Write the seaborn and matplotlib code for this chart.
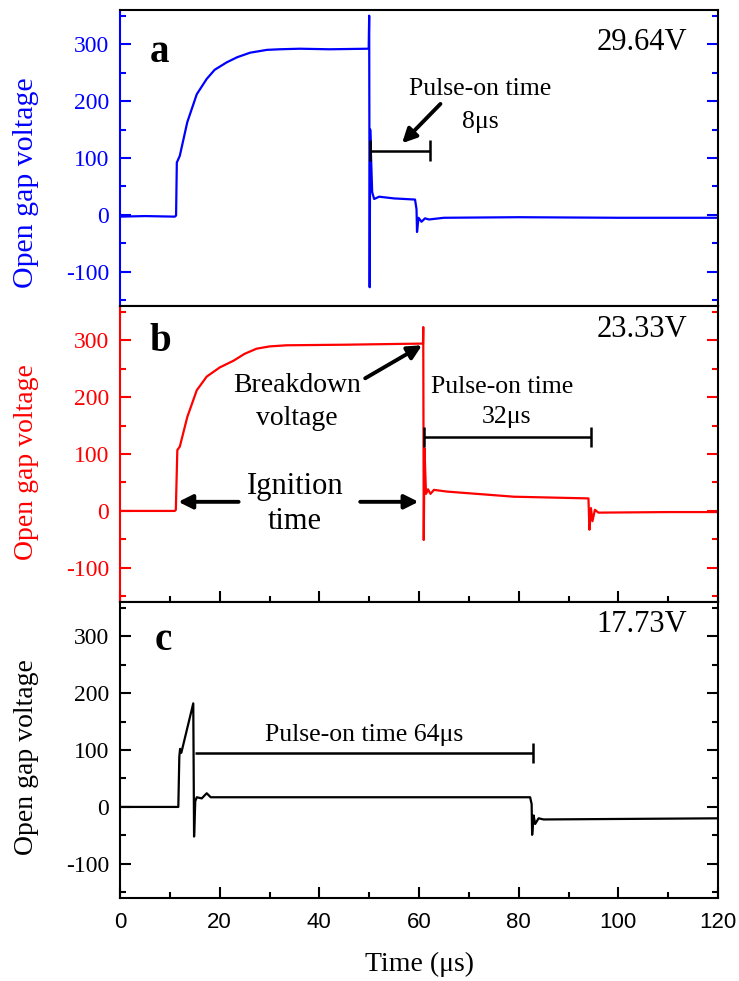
import matplotlib
matplotlib.use('Agg')
import matplotlib.pyplot as plt
from matplotlib.ticker import MultipleLocator
import seaborn as sns
import pandas as pd

# ── Data ─────────────────────────────────────────────────
time_a = [0, 5, 11.0, 11.25, 11.4, 12.0, 13.5, 15.4, 17.4, 19.0, 21.4, 23.5, 26.1,
          29.5, 32.0, 36.1, 42, 49.9, 50.0, 50.1, 50.2, 50.6, 51.0, 52.0, 55.0,
          59.2, 59.5, 59.6, 59.9, 60.5, 61.2, 62.0, 65.0, 80.0, 100.0, 120.0]
volt_a = [-3, -2, -3, -1, 92, 104, 163, 212, 239, 255, 268, 277, 285,
          290, 291, 292, 291, 292, 350, -127, 150, 40, 28, 32, 29,
          27, 10, -30, -5, -12, -6, -8, -5, -4, -5, -5]

time_b = [0, 11.0, 11.2, 11.5, 12.0, 13.5, 15.4, 17.4, 20.0, 22.8, 25.0, 27.4,
          30.0, 33.4, 45.0, 60.8, 60.85, 60.95, 61.1, 61.4, 61.8, 62.3, 63.0,
          65.6, 79.0, 94.0, 94.2, 94.5, 94.8, 95.3, 96.0, 110.0, 120.0]
volt_b = [0, 0, 2, 107, 113, 165, 212, 236, 252, 264, 276, 285,
          289, 291, 292, 294, 323, -51, 110, 30, 38, 30, 37,
          34, 25, 22, -33, 5, -18, 2, -3, -2, -2]

time_c = [0, 11.7, 11.9, 12.05, 12.3, 14.7, 14.86, 15.1, 15.4, 16.4, 17.4, 18.2,
          50.0, 82.3, 82.6, 82.7, 83.0, 83.3, 84.0, 85.0, 120.0]
volt_c = [0, 0, 88, 102, 95, 182, -52, 10, 17, 15, 24, 17,
          17, 17, 5, -49, -15, -30, -20, -22, -20]

panel_letters = ['a', 'b', 'c']
panel_volts = ['29.64V', '23.33V', '17.73V']
trace_colors = ['#0000ff', '#ff0000', '#000000']

# pulse-on intervals: start, end, bar height
pulse_start = [50.2, 61.1, 15.06]
pulse_end = [62.2, 94.6, 82.8]
pulse_y = [113, 130, 95]

traces = [pd.DataFrame({'t': time_a, 'v': volt_a}),
          pd.DataFrame({'t': time_b, 'v': volt_b}),
          pd.DataFrame({'t': time_c, 'v': volt_c})]

sns.set_theme(style='ticks')
plt.rcParams['font.family'] = ['Liberation Serif', 'DejaVu Serif']
plt.rcParams['axes.unicode_minus'] = False
plt.rcParams['text.color'] = 'black'
plt.rcParams['axes.labelcolor'] = 'black'

fig, axes = plt.subplots(3, 1, figsize=(7.39, 9.81), dpi=100, sharex=True,
                         gridspec_kw=dict(hspace=0))
fig.subplots_adjust(left=0.1624, right=0.9716, top=0.9898, bottom=0.0846)

label_y = [0.416, 0.473, 0.476]
label_size = [21.5, 20, 20]

for i, ax in enumerate(axes):
    col = trace_colors[i]
    sns.lineplot(data=traces[i], x='t', y='v', color=col, lw=1.6, ax=ax,
                 sort=False, estimator=None)
    ax.set_xlim(0, 120)
    ax.set_ylim(-160, 360)
    ax.yaxis.set_major_locator(MultipleLocator(100))
    ax.yaxis.set_minor_locator(MultipleLocator(50))
    ax.xaxis.set_major_locator(MultipleLocator(20))
    ax.xaxis.set_minor_locator(MultipleLocator(10))

    for s in ax.spines.values():
        s.set_linewidth(1.5)
        s.set_color('black')
    ax.spines['left'].set_color(col)

    ax.tick_params(axis='y', which='both', direction='in', left=True, right=True,
                   width=1.5, colors=col, labelsize=17, pad=8)
    ax.tick_params(axis='y', which='major', length=8)
    ax.tick_params(axis='y', which='minor', length=4.5)
    for t in ax.yaxis.get_ticklines(minor=False)[1::2]:
        t.set_color('black')
    for t in ax.yaxis.get_ticklines(minor=True)[1::2]:
        t.set_color('black')

    if i == 0:
        ax.tick_params(axis='x', which='both', bottom=False, top=False,
                       labelbottom=False)
    else:
        ax.tick_params(axis='x', which='both', direction='in', bottom=True,
                       top=False, width=1.5, colors='black', labelsize=16,
                       pad=10, labelbottom=(i == 2))
        ax.tick_params(axis='x', which='major', length=8)
        ax.tick_params(axis='x', which='minor', length=4.5)

    ax.set_ylabel('Open gap voltage', color=col, fontsize=label_size[i])
    ax.yaxis.set_label_coords(-0.135, label_y[i])
    ax.set_xlabel('')

    ax.text(8.0 + (0.7 if i == 2 else 0), [285, 297, 292][i], panel_letters[i],
            fontsize=28, fontweight='bold', ha='center', va='center')
    ax.text(113.8, [303, 318, 321][i], panel_volts[i], fontsize=22,
            ha='right', va='center')

    # pulse-on bar
    ax.hlines(pulse_y[i], pulse_start[i], pulse_end[i], color='black', lw=1.8)
    if i < 2:
        ax.vlines(pulse_start[i], pulse_y[i] - 18, pulse_y[i] + 18,
                  color='black', lw=1.8)
    ax.vlines(pulse_end[i], pulse_y[i] - 18, pulse_y[i] + 18,
              color='black', lw=1.8)

arrow = dict(arrowstyle='-|>,head_length=0.7,head_width=0.35', lw=2.8,
             color='black', shrinkA=0, shrinkB=0)

# panel a annotations
ax = axes[0]
ax.text(72.3, 221, 'Pulse-on time', fontsize=18.5, ha='center', va='center')
ax.text(72.3, 163, '8μs', fontsize=18.5, ha='center', va='center')
ax.annotate('', xy=(56.6, 126), xytext=(64.3, 195), arrowprops=arrow)

# panel b annotations
ax = axes[1]
ax.text(76.6, 217, 'Pulse-on time', fontsize=18.5, ha='center', va='center')
ax.text(77.5, 165, '32μs', fontsize=18.5, ha='center', va='center')
ax.text(35.5, 221, 'Breakdown', fontsize=20, ha='center', va='center')
ax.text(35.5, 163, 'voltage', fontsize=20, ha='center', va='center')
ax.annotate('', xy=(60.6, 291), xytext=(49.2, 233), arrowprops=arrow)
ax.text(35.1, 43, 'Ignition', fontsize=22, ha='center', va='center')
ax.text(35.1, -19, 'time', fontsize=22, ha='center', va='center')
ax.annotate('', xy=(11.7, 16), xytext=(23.8, 16), arrowprops=arrow)
ax.annotate('', xy=(59.9, 16), xytext=(48.2, 16), arrowprops=arrow)

# panel c annotations
ax = axes[2]
ax.text(49.0, 126, 'Pulse-on time 64μs', fontsize=18.5, ha='center', va='center')

for lbl in axes[2].get_xticklabels():
    lbl.set_fontfamily('Liberation Sans')
axes[2].set_xlabel('Time (μs)', fontsize=20, labelpad=14)

plt.savefig('out.png', dpi=100)
